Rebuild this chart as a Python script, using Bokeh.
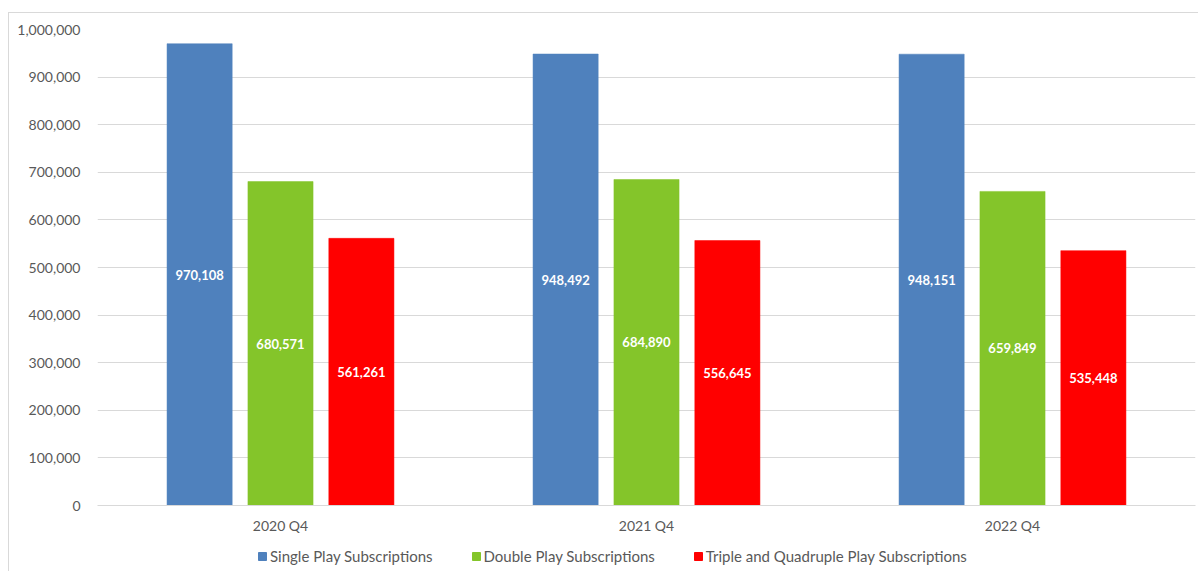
from bokeh.plotting import figure
from bokeh.layouts import column
from bokeh.models import ColumnDataSource, FactorRange, NumeralTickFormatter, Legend, LegendItem, LabelSet, SingleIntervalTicker
from bokeh.core.properties import value
from bokeh.transform import dodge
from bokeh.embed import file_html
from bokeh.resources import INLINE

quarters = ["2020 Q4", "2021 Q4", "2022 Q4"]
single_play = [970108, 948492, 948151]
double_play = [680571, 684890, 659849]
triple_quad_play = [561261, 556645, 535448]
series_names = ["Single Play Subscriptions", "Double Play Subscriptions", "Triple and Quadruple Play Subscriptions"]
colors = ["#4F81BD", "#84C52A", "#FF0000"]

FONT = "Lato"

src = ColumnDataSource(dict(
    q=quarters,
    s=single_play, d=double_play, t=triple_quad_play,
    s_mid=[v / 2 for v in single_play], d_mid=[v / 2 for v in double_play], t_mid=[v / 2 for v in triple_quad_play],
    s_lab=[f"{v:,}" for v in single_play], d_lab=[f"{v:,}" for v in double_play], t_lab=[f"{v:,}" for v in triple_quad_play],
))

p = figure(x_range=FactorRange(*quarters, range_padding=0), y_range=(0, 1000000),
           width=1190, height=528, output_backend="svg", toolbar_location=None,
           min_border_left=88, min_border_right=4, min_border_top=16, min_border_bottom=36)
p.x_range.factor_padding = 0
p.outline_line_color = None

bw = 0.178
offs = [-0.221, 0.0, 0.221]
keys = ["s", "d", "t"]
for k, off, c in zip(keys, offs, colors):
    p.vbar(x=dodge("q", off, range=p.x_range), top=k, width=bw, source=src,
           fill_color=c, line_color=c, line_width=0.5)
    labels = LabelSet(x=dodge("q", off, range=p.x_range), y=f"{k}_mid", text=f"{k}_lab", source=src,
                      text_align="center", text_baseline="middle", text_color="white",
                      text_font=value(FONT), text_font_size="13px", text_font_style="bold")
    p.add_layout(labels)

p.yaxis.ticker = SingleIntervalTicker(interval=100000)
p.yaxis.formatter = NumeralTickFormatter(format="0,0")
p.yaxis.axis_line_color = None
p.yaxis.major_tick_line_color = None
p.yaxis.minor_tick_line_color = None
p.yaxis.major_label_text_font = FONT
p.yaxis.major_label_text_font_size = "14px"
p.yaxis.major_label_text_color = "#595959"
p.yaxis.major_label_standoff = 11

p.xaxis.axis_line_color = "#D9D9D9"
p.xaxis.major_tick_line_color = None
p.xaxis.minor_tick_line_color = None
p.xaxis.major_label_text_font = FONT
p.xaxis.major_label_text_font_size = "14px"
p.xaxis.major_label_text_color = "#595959"
p.xaxis.major_label_standoff = 5

p.xgrid.grid_line_color = None
p.ygrid.grid_line_color = "#D9D9D9"
p.ygrid.grid_line_width = 1

# legend strip (hidden proxy renderers carry the legend swatches)
lg = figure(width=1190, height=35, output_backend="svg", toolbar_location=None,
            x_axis_type=None, y_axis_type=None, x_range=(0, 1), y_range=(0, 1),
            min_border=0, min_border_left=0, min_border_right=0, min_border_top=0, min_border_bottom=0)
lg.outline_line_color = None
lg.grid.grid_line_color = None
items = []
for c, name in zip(colors, series_names):
    r = lg.vbar(x=[0], top=[0], width=0.1, fill_color=c, line_color=c, visible=False)
    items.append(LegendItem(label=name, renderers=[r]))
legend = Legend(items=items, orientation="horizontal", location=(160, 11),
                label_text_font=FONT, label_text_font_size="15px", label_text_color="#595959",
                glyph_width=10, glyph_height=10, spacing=38, label_standoff=3,
                border_line_color=None, background_fill_alpha=0, padding=0, margin=0,
                inactive_fill_alpha=0)
lg.add_layout(legend)

layout = column(p, lg, spacing=0)
layout.styles = {"border": "1px solid #D9D9D9", "margin-left": "8px", "margin-top": "12px"}

open("out.html", "w").write(file_html(layout, INLINE))
